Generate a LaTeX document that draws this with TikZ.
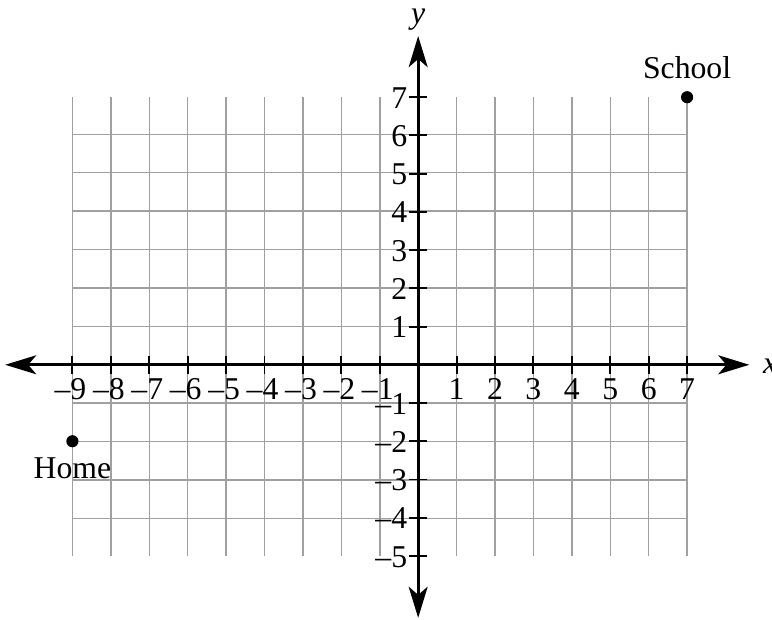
\documentclass[tikz,border=0pt]{standalone}
\usepackage{fontspec}
\setmainfont{Liberation Serif}
\usetikzlibrary{arrows.meta, positioning}
\definecolor{gridgray}{RGB}{160,160,160}
\tikzset{
  grid line/.style={draw=gridgray, line width=1.1pt},
  axis/.style={line width=2.2pt, {Stealth[length=23pt,width=14pt,inset=6pt]}-{Stealth[length=23pt,width=14pt,inset=6pt]}},
  tickmark/.style={line width=1.4pt},
  tick label/.style={font=\fontsize{23.5}{27}\selectfont, inner sep=0pt},
  axis label/.style={font=\fontsize{23.5}{27}\selectfont\itshape, inner sep=0pt},
  place/.style={circle, fill=black, inner sep=0pt, minimum size=9pt},
  place label/.style={font=\fontsize{23.5}{27}\selectfont, inner sep=0pt},
}

\begin{document}
\begin{tikzpicture}[x=1cm, y=0.995cm]
  \clip (-10.885,-6.667) rectangle (9.21,9.543);

  % grid
  \draw[grid line] (-9,-5) grid (7,7);

  % axes
  \coordinate (xmin) at (-10.75,0);
  \coordinate (xmax) at (8.62,0);
  \coordinate (ymin) at (0,-6.62);
  \coordinate (ymax) at (0,8.6);
  \draw[axis] (xmin) -- (xmax);
  \draw[axis] (ymin) -- (ymax);
  \node[axis label, anchor=west] (xlab) at (8.97,-0.05) {x};
  \node[axis label, anchor=base] (ylab) at (0,8.94) {y};

  % ticks and numbers
  \foreach \x in {-9,...,-1} {
    \draw[tickmark] (\x,-0.23) -- (\x,0.23);
    \node[tick label, anchor=base] (xl\x) at (\x-0.05,-0.92) {–\the\numexpr-\x\relax};
  }
  \foreach \x in {1,...,7} {
    \draw[tickmark] (\x,-0.23) -- (\x,0.23);
    \node[tick label, anchor=base] (xl\x) at (\x,-0.92) {\x};
  }
  \foreach \y in {-5,...,-1} {
    \draw[tickmark] (-0.25,\y) -- (0.23,\y);
    \node[tick label, anchor=base east] (yl\y) at (-0.28,\y-0.29) {–\the\numexpr-\y\relax};
  }
  \foreach \y in {1,...,7} {
    \draw[tickmark] (-0.25,\y) -- (0.23,\y);
    \node[tick label, anchor=base east] (yl\y) at (-0.28,\y-0.29) {\y};
  }

  % points
  \node[place] (home) at (-9,-2) {};
  \node[place label, below=7pt of home] (homelab) {Home};
  \node[place] (school) at (7,7) {};
  \node[place label, above=9pt of school] (schoollab) {School};
\end{tikzpicture}
\end{document}
